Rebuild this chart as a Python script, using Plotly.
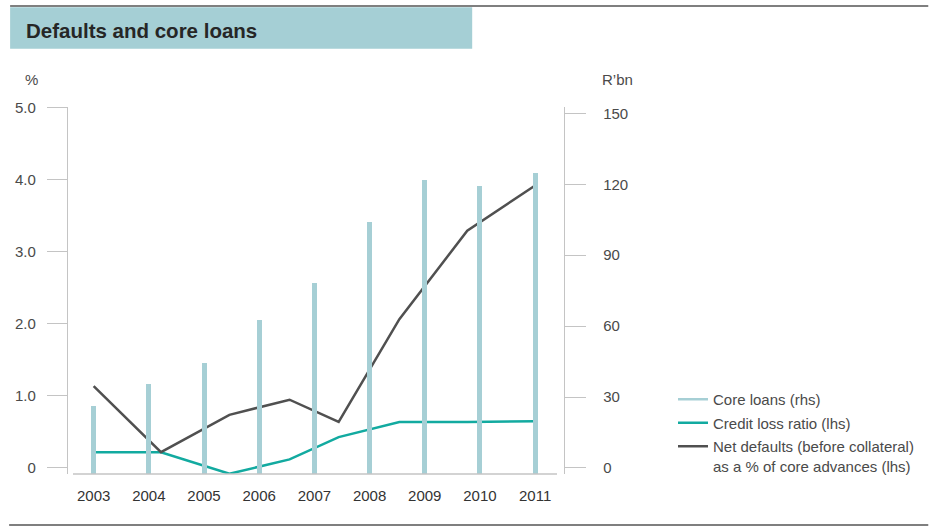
import plotly.graph_objects as go

# ---- data ----
years = [2003, 2004, 2005, 2006, 2007, 2008, 2009, 2010, 2011]
core_loans = [26.3, 35.6, 44.4, 62.6, 78.2, 104.2, 122.0, 119.4, 124.8]   # R'bn, rhs

line_x = [2003.0, 2004.22, 2005.46, 2006.55, 2007.44, 2008.54, 2009.77, 2011.0]
credit_loss = [0.21, 0.21, -0.09, 0.11, 0.42, 0.63, 0.63, 0.64]          # %, lhs
net_defaults = [1.13, 0.21, 0.73, 0.94, 0.63, 2.06, 3.29, 3.92]          # %, lhs

left_ticks = [0, 1, 2, 3, 4, 5]
left_tick_text = ["0", "1.0", "2.0", "3.0", "4.0", "5.0"]
right_ticks = [0, 30, 60, 90, 120, 150]
right_tick_text = ["0", "30", "60", "90", "120", "150"]

# ---- styling ----
W, H = 930, 529
PL, PR, PT, PB = 68, 565, 107, 474   # plot area in pixels
Y1_RANGE = [-0.093, 5.011]
Y2_RANGE = [-2.58, 152.73]
X_RANGE = [2002.535, 2011.523]

BAR_C = "#a6cfd5"
TEAL = "#12aaa0"
DARK = "#505050"
AXIS_C = "#c4c4c4"
TXT = "#4a4a4a"
FONT = "Liberation Sans, Arial, sans-serif"


def px(x):
    return (x - PL) / (PR - PL)


def py(y):
    return (PB - y) / (PB - PT)


fig = go.Figure()

fig.add_trace(go.Bar(
    x=years, y=[v - Y2_RANGE[0] for v in core_loans], base=Y2_RANGE[0],
    width=0.09, marker=dict(color=BAR_C, line=dict(width=0)),
    yaxis="y2", showlegend=False, name="Core loans (rhs)", hoverinfo="skip"))

# legend proxy for bars (shown as a line in the reference legend)
fig.add_trace(go.Scatter(x=[None], y=[None], mode="lines",
                         line=dict(color=BAR_C, width=2.5),
                         name="Core loans (rhs)", legendgroup="a"))

fig.add_trace(go.Scatter(x=line_x, y=credit_loss, mode="lines",
                         line=dict(color=TEAL, width=2.5),
                         name="Credit loss ratio (lhs)", legendgroup="b"))

fig.add_trace(go.Scatter(x=line_x, y=net_defaults, mode="lines",
                         line=dict(color=DARK, width=2.5),
                         name="Net defaults (before collateral)<br>as a % of core advances (lhs)",
                         legendgroup="c"))

shapes = [
    # title band
    dict(type="rect", xref="paper", yref="paper",
         x0=px(10), x1=px(473), y0=py(48.7), y1=py(7.3),
         fillcolor="#a5cfd5", line=dict(width=0), layer="below"),
    # top rule
    dict(type="line", xref="paper", yref="paper",
         x0=px(10), x1=px(930), y0=py(6), y1=py(6),
         line=dict(color="#555555", width=1.3)),
    # bottom rule
    dict(type="line", xref="paper", yref="paper",
         x0=px(9), x1=px(930), y0=py(525), y1=py(525),
         line=dict(color="#555555", width=1.5)),
    # baseline
    dict(type="line", xref="paper", yref="paper",
         x0=px(73), x1=px(558), y0=0, y1=0,
         line=dict(color=AXIS_C, width=1.3)),
]

annotations = [
    dict(text="Defaults and core loans", xref="paper", yref="paper",
         x=px(24), y=py(30.5), xanchor="left", yanchor="middle", showarrow=False,
         font=dict(family=FONT, size=20.5, color="#262626", weight="bold")),
    dict(text="%", xref="paper", yref="paper", x=px(31), y=py(79),
         xanchor="center", yanchor="middle", showarrow=False,
         font=dict(family=FONT, size=15, color=TXT)),
    dict(text="R’bn", xref="paper", yref="paper", x=px(601), y=py(79),
         xanchor="left", yanchor="middle", showarrow=False,
         font=dict(family=FONT, size=15, color=TXT)),
]

fig.update_layout(
    width=W, height=H,
    margin=dict(l=PL, r=W - PR, t=PT, b=H - PB, pad=0),
    paper_bgcolor="white", plot_bgcolor="white",
    font=dict(family=FONT, size=15, color=TXT),
    showlegend=True,
    legend=dict(x=px(673), y=py(383), xanchor="left", yanchor="top",
                xref="paper", yref="paper",
                font=dict(family=FONT, size=15, color=TXT),
                traceorder="grouped", tracegroupgap=1, valign="top",
                bgcolor="rgba(0,0,0,0)", itemwidth=30),
    xaxis=dict(range=X_RANGE, tickmode="array", tickvals=years,
               ticktext=[str(y) for y in years], ticks="", showline=False,
               showgrid=False, zeroline=False, ticklabelstandoff=11,
               tickfont=dict(size=15, color="#333333")),
    yaxis=dict(range=Y1_RANGE, tickmode="array", tickvals=left_ticks,
               ticktext=left_tick_text, ticks="outside", ticklen=20,
               tickcolor=AXIS_C, tickwidth=1.3, showline=True, linecolor=AXIS_C,
               linewidth=1.3, showgrid=False, zeroline=False,
               ticklabelstandoff=8, tickfont=dict(size=15, color=TXT)),
    yaxis2=dict(range=Y2_RANGE, overlaying="y", side="right", tickmode="array",
                tickvals=right_ticks, ticktext=right_tick_text, ticks="outside",
                ticklen=21, tickcolor=AXIS_C, tickwidth=1.3, showline=True,
                linecolor=AXIS_C, linewidth=1.3, showgrid=False, zeroline=False,
                ticklabelstandoff=14, tickfont=dict(size=15, color=TXT)),
    shapes=shapes, annotations=annotations,
    bargap=0, hovermode=False,
)

fig.write_html("out.html")
